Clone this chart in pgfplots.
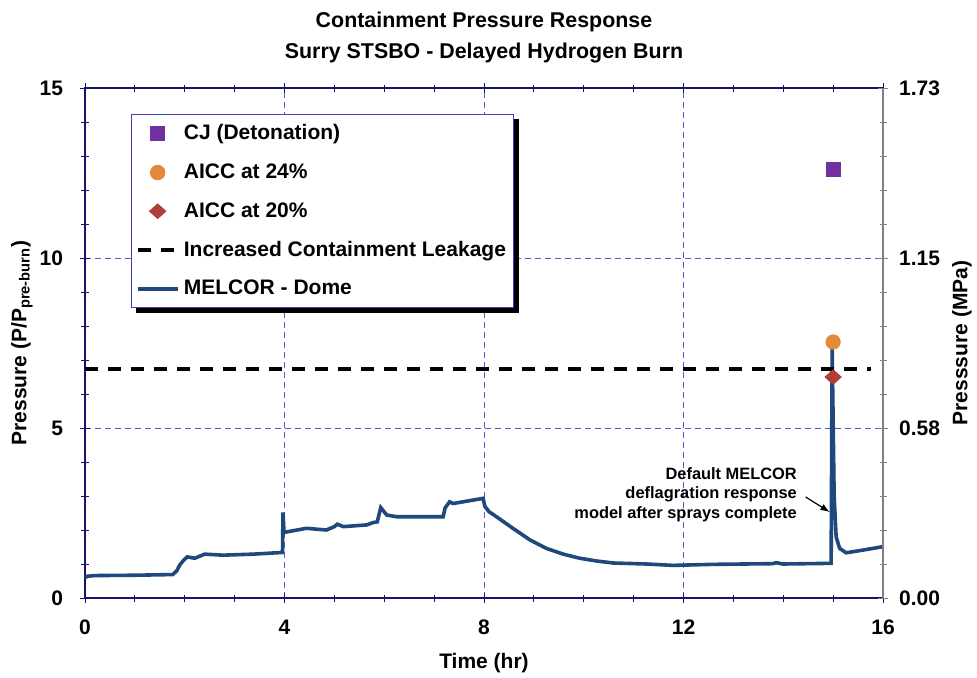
\documentclass[border=0pt]{standalone}
\usepackage{pgfplots}
\pgfplotsset{compat=1.18}
\usepackage{pgfplotstable}
\usepackage{fontspec}
\setmainfont{Liberation Sans}

\definecolor{melcor}{RGB}{31,73,125}
\definecolor{cjpurple}{RGB}{112,48,160}
\definecolor{aiccorange}{RGB}{228,136,58}
\definecolor{aiccred}{RGB}{176,62,58}
\definecolor{axnavy}{RGB}{20,20,110}
\definecolor{gridblue}{RGB}{90,90,200}

% MELCOR dome pressure
\pgfplotstableread{
t p
0.00 0.60
0.05 0.64
0.20 0.66
1.00 0.67
1.76 0.69
1.84 0.80
1.90 0.97
1.97 1.10
2.05 1.21
2.20 1.17
2.40 1.29
2.77 1.26
3.37 1.29
3.96 1.34
3.97 2.52
3.99 1.93
4.44 2.05
4.84 2.00
5.00 2.10
5.06 2.17
5.18 2.10
5.65 2.15
5.78 2.22
5.86 2.24
5.93 2.66
6.05 2.44
6.25 2.39
7.18 2.39
7.22 2.65
7.31 2.83
7.38 2.78
7.98 2.93
8.02 2.69
8.10 2.54
8.25 2.39
8.58 2.05
8.92 1.71
9.25 1.46
9.59 1.29
9.92 1.17
10.25 1.09
10.59 1.03
11.26 1.00
11.79 0.96
12.59 0.99
13.79 1.01
13.86 1.04
13.99 1.00
14.96 1.02
14.98 7.39
15.02 3.00
15.06 1.80
15.13 1.46
15.26 1.33
15.60 1.41
16.00 1.51
}\melcortable

\begin{document}
\begin{tikzpicture}
\path[use as bounding box] (-42.5pt,-39.5pt) rectangle (446pt,299pt);

\begin{axis}[
  scale only axis, width=399pt, height=255pt,
  xmin=0, xmax=16, ymin=0, ymax=15,
  xtick={0,4,8,12,16}, ytick={0,5,10,15},
  minor x tick num=3, minor y tick num=4,
  tick align=center,
  major tick length=5pt, minor tick length=3.5pt,
  axis line style={axnavy, line width=0.9pt},
  every tick/.style={axnavy, line width=0.5pt},
  grid=major,
  major grid style={gridblue, densely dashed, line width=0.4pt},
  /pgf/number format/assume math mode=true,
  ticklabel style={font=\fontsize{10.5}{12}\selectfont\bfseries},
  xticklabel style={yshift=-5pt},
  yticklabel style={xshift=-5pt},
  xlabel={Time (hr)},
  ylabel={Pressure (P/P\textsubscript{pre-burn})},
  label style={font=\fontsize{10.5}{12}\selectfont\bfseries},
  xlabel style={at={(axis description cs:0.5,-0.1275)}, anchor=center},
  ylabel style={at={(axis description cs:-0.079,0.5)}, anchor=center},
  legend image code/.code={\draw[mark repeat=2,mark phase=2,#1] plot coordinates {(0pt,0pt) (10pt,0pt) (20pt,0pt)};},
  legend cell align=left,
  legend style={name=leg, at={(axis description cs:0.0576,0.949)}, anchor=north west,
    draw=gray!50!blue, line width=0.5pt, fill=white,
    font=\fontsize{10.5}{12}\selectfont\bfseries,
    row sep=6.5pt, inner xsep=2pt, inner ysep=3pt},
]
\addplot[melcor, line width=1.8pt, forget plot] table {\melcortable};
\addplot[black, line width=2.2pt, dash pattern=on 6.5pt off 5pt, forget plot]
  coordinates {(0,6.73) (15.76,6.73)};

\addplot[only marks, mark=square*, mark size=3.5pt, color=cjpurple]
  coordinates {(15,12.6)};
\addlegendentry{CJ (Detonation)}
\addplot[only marks, mark=*, mark size=3.6pt, color=aiccorange]
  coordinates {(15,7.53)};
\addlegendentry{AICC at 24\%}
\addplot[only marks, mark=diamond*, mark size=3.6pt, color=aiccred, mark options={xscale=1.5}]
  coordinates {(15,6.5)};
\addlegendentry{AICC at 20\%}
\addlegendimage{black, line width=2.2pt, dash pattern=on 6.5pt off 5pt}
\addlegendentry{Increased Containment Leakage}
\addlegendimage{melcor, line width=1.8pt}
\addlegendentry{MELCOR - Dome}

\node[anchor=east, align=right, inner sep=0pt, font=\fontsize{8.2}{9.75}\selectfont\bfseries]
  at (axis cs:14.28,3.05) {Default MELCOR\\deflagration response\\model after sprays complete};
\draw[-latex, line width=0.6pt] (axis cs:14.45,2.97) -- (axis cs:14.93,2.53);
\end{axis}

\begin{axis}[
  scale only axis, width=399pt, height=255pt,
  xmin=0, xmax=16, ymin=0, ymax=15,
  axis y line*=right, axis x line=none,
  ytick={0,5,10,15}, yticklabels={0.00,0.58,1.15,1.73},
  minor y tick num=4,
  tick align=center,
  major tick length=5pt, minor tick length=3.5pt,
  y axis line style={gray, line width=0.9pt},
  every tick/.style={gray, line width=0.5pt},
  ticklabel style={font=\fontsize{10.5}{12}\selectfont\bfseries},
  yticklabel style={xshift=2pt},
  ylabel={Presssure (MPa)},
  ylabel style={font=\fontsize{10.5}{12}\selectfont\bfseries,
    at={(axis description cs:1.099,0.5)}, anchor=center},
]
\end{axis}

% legend shadow strips (right and bottom)
\fill[black] ([yshift=-2.5pt]leg.north east) rectangle ([xshift=2.5pt,yshift=-2.5pt]leg.south east);
\fill[black] ([xshift=2.5pt]leg.south west) rectangle ([xshift=2.5pt,yshift=-2.5pt]leg.south east);

\node[font=\fontsize{10.7}{13}\selectfont\bfseries] at (199.5pt,288pt) {Containment Pressure Response};
\node[font=\fontsize{10.7}{13}\selectfont\bfseries] at (199.5pt,272.5pt) {Surry STSBO - Delayed Hydrogen Burn};
\end{tikzpicture}
\end{document}
